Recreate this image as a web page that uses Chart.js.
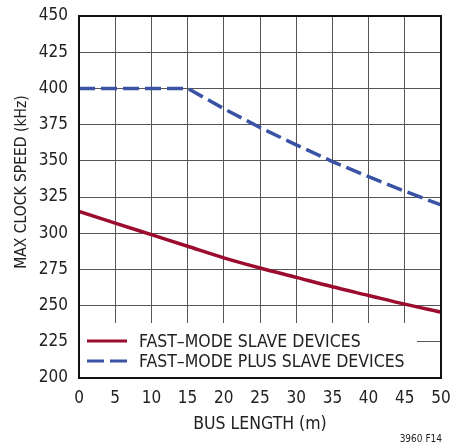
<!DOCTYPE html>
<html>
<head>
<meta charset="utf-8">
<script src="https://cdn.jsdelivr.net/npm/chart.js@4.4.1/dist/chart.umd.min.js"></script>
<style>
    html, body { margin: 0; padding: 0; background: #fff; }
</style>
</head>
<body>
<canvas id="graficoClock" width="453" height="446"></canvas>
<script>
// bus length (m) against max clock speed (kHz)
const busLength = [0, 5, 10, 15, 20, 25, 30, 35, 40, 45, 50];
const fastMode = [315, 307, 299, 291, 283, 276, 269.5, 263, 257, 251, 245.5];
const fastModePlus = [400, 400, 400, 400, 386, 373, 361, 349.5, 339, 329, 319.5];
const xTicks = [0, 5, 10, 15, 20, 25, 30, 35, 40, 45, 50];
const yTicks = [200, 225, 250, 275, 300, 325, 350, 375, 400, 425, 450];

const FONT = '"Liberation Sans Narrow", "DejaVu Sans Condensed", "Liberation Sans", sans-serif';
const TEXT = '#222';

// scale boxes keep their size, no extra padding for edge labels
function noPadding(s) {
    s.paddingTop = 0;
    s.paddingBottom = 0;
    s.paddingLeft = 0;
    s.paddingRight = 0;
}

// white box with the legend, frame, y title and figure code
const legendBox = {
    id: 'legendBox',
    beforeDatasetsDraw(chart) {
        const { ctx, chartArea: a } = chart;
        ctx.save();
        ctx.fillStyle = '#fff';
        ctx.fillRect(a.left, a.bottom - 55, a.width - 24, 55);
        ctx.restore();
    },
    afterDraw(chart) {
        const { ctx, chartArea: a } = chart;
        ctx.save();
        ctx.strokeStyle = '#111';
        ctx.lineWidth = 2;
        ctx.strokeRect(a.left, a.top, a.width, a.height);

        chart.data.datasets.forEach((ds, i) => {
            const y = a.bottom - 37 + i * 20;
            ctx.strokeStyle = ds.borderColor;
            ctx.lineWidth = 3;
            ctx.setLineDash(ds.borderDash ? [17, 6] : []);
            ctx.beginPath();
            ctx.moveTo(a.left + 8, y);
            ctx.lineTo(a.left + 48, y);
            ctx.stroke();
            ctx.setLineDash([]);
            ctx.fillStyle = TEXT;
            ctx.font = '17.5px ' + FONT;
            ctx.textAlign = 'left';
            ctx.textBaseline = 'middle';
            ctx.fillText(ds.label, a.left + 60, y + 1);
        });

        ctx.font = '15.5px ' + FONT;
        ctx.fillStyle = TEXT;
        ctx.textAlign = 'center';
        ctx.textBaseline = 'middle';
        ctx.save();
        ctx.translate(22, 182);
        ctx.rotate(-Math.PI / 2);
        ctx.fillText('MAX CLOCK SPEED (kHz)', 0, 0);
        ctx.restore();

        ctx.font = '10px ' + FONT;
        ctx.textAlign = 'right';
        ctx.fillText('3960 F14', 442, 439);
        ctx.restore();
    }
};

const ctx = document.getElementById('graficoClock').getContext('2d');

new Chart(ctx, {
    type: 'line',
    data: {
        labels: busLength,
        datasets: [{
            label: 'FAST–MODE SLAVE DEVICES',
            data: busLength.map((x, i) => ({ x: x, y: fastMode[i] })),
            borderColor: '#9c0c2e',
            borderWidth: 3.5,
            pointRadius: 0,
            cubicInterpolationMode: 'monotone'
        }, {
            label: 'FAST–MODE PLUS SLAVE DEVICES',
            data: busLength.map((x, i) => ({ x: x, y: fastModePlus[i] })),
            borderColor: '#3a53a4',
            borderWidth: 3.5,
            borderDash: [16, 6],
            pointRadius: 0,
            tension: 0
        }]
    },
    options: {
        responsive: false,
        animation: false,
        layout: { padding: { top: 16, right: 12, left: 0, bottom: 0 } },
        plugins: {
            legend: { display: false },
            tooltip: { enabled: false }
        },
        scales: {
            x: {
                type: 'linear',
                min: 0,
                max: 50,
                afterFit: s => { s.height = 68; noPadding(s); },
                afterBuildTicks: s => { s.ticks = xTicks.map(v => ({ value: v })); },
                grid: { color: '#555', lineWidth: 1, drawTicks: false },
                border: { display: false },
                ticks: { color: TEXT, padding: 10, font: { family: FONT, size: 17 } },
                title: {
                    display: true,
                    text: 'BUS LENGTH (m)',
                    color: TEXT,
                    font: { family: FONT, size: 17.5 },
                    padding: { top: 0, bottom: 11 }
                }
            },
            y: {
                min: 200,
                max: 450,
                afterFit: s => { s.width = 79; noPadding(s); },
                afterBuildTicks: s => { s.ticks = yTicks.map(v => ({ value: v })); },
                grid: { color: '#555', lineWidth: 1, drawTicks: false },
                border: { display: false },
                ticks: { color: TEXT, padding: 11, font: { family: FONT, size: 17 } }
            }
        }
    },
    plugins: [legendBox]
});
</script>
</body>
</html>
